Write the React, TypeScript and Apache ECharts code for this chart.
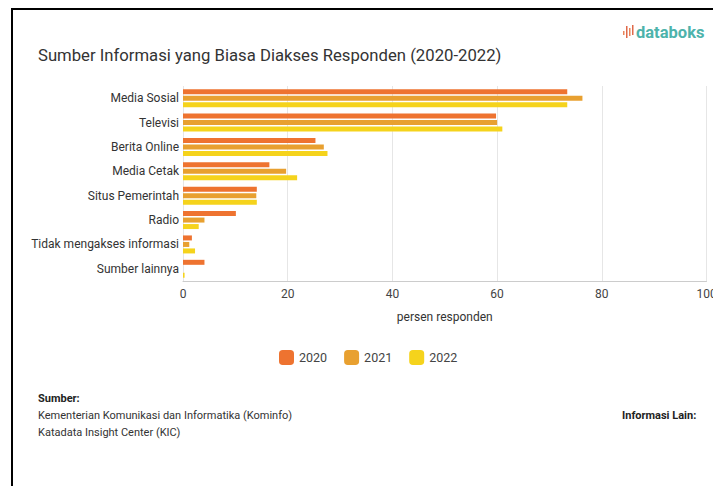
import React, { useEffect, useRef } from "react";
import * as echarts from "echarts";

const categories = [
  "Media Sosial",
  "Televisi",
  "Berita Online",
  "Media Cetak",
  "Situs Pemerintah",
  "Radio",
  "Tidak mengakses informasi",
  "Sumber lainnya",
];
const years = ["2020", "2021", "2022"];
const values2020 = [73.4, 59.8, 25.3, 16.5, 14.1, 10.1, 1.7, 4.1];
const values2021 = [76.3, 60.0, 26.9, 19.7, 14.0, 4.1, 1.2, 0];
const values2022 = [73.4, 61.0, 27.6, 21.8, 14.1, 3.0, 2.3, 0.3];
const colors = ["#EE7330", "#E8A030", "#F5D31C"];

export default function App() {
  const ref = useRef<HTMLDivElement>(null);
  useEffect(() => {
    document.body.style.margin = "0";
    const chart = echarts.init(ref.current!, null, { renderer: "svg" });
    const seriesData = [values2020, values2021, values2022];
    chart.setOption({
      animation: false,
      textStyle: { fontFamily: "Roboto" },
      title: {
        text: "Sumber Informasi yang Biasa Diakses Responden (2020-2022)",
        left: 33,
        top: 42,
        textStyle: { fontSize: 16.7, fontWeight: "normal", color: "#333" },
      },
      legend: {
        data: years,
        left: 274,
        top: 345,
        itemWidth: 15,
        itemHeight: 15,
        itemGap: 17,
        icon: "roundRect",
        textStyle: { fontSize: 12.5, color: "#444" },
      },
      grid: {
        left: 183,
        right: 6.5,
        top: 86,
        bottom: 205,
        containLabel: false,
        outerBoundsMode: "none",
      },
      xAxis: {
        type: "value",
        min: 0,
        max: 100,
        interval: 20,
        name: "persen responden",
        nameLocation: "middle",
        nameGap: 30,
        nameTextStyle: { fontSize: 12, color: "#333" },
        axisLine: { show: true, lineStyle: { color: "#ccc" } },
        axisTick: { show: false },
        axisLabel: { fontSize: 12, color: "#444", margin: 7 },
        splitLine: { show: true, lineStyle: { color: "#e6e6e6" } },
      },
      yAxis: {
        type: "category",
        data: categories,
        inverse: true,
        axisLine: { show: false },
        axisTick: { show: false },
        axisLabel: { fontSize: 12, color: "#333", margin: 4 },
      },
      series: years.map((y, i) => ({
        name: y,
        type: "bar",
        data: seriesData[i],
        barWidth: 5,
        barGap: "30%",
        itemStyle: { color: colors[i] },
      })),
      graphic: [
        {
          type: "rect",
          shape: { x: 12, y: 9, width: 900, height: 600 },
          style: { fill: "none", stroke: "#000", lineWidth: 2 },
          silent: true,
        },
        {
          type: "text",
          x: 636,
          y: 24,
          style: {
            text: "databoks",
            fill: "#4DB3AB",
            font: "bold 16.5px Roboto",
          },
        },
        { type: "rect", shape: { x: 623, y: 31, width: 1.5, height: 4 }, style: { fill: "#E9855B" } },
        { type: "rect", shape: { x: 626, y: 26, width: 1.5, height: 12 }, style: { fill: "#E06A4A" } },
        { type: "rect", shape: { x: 629, y: 28, width: 1.5, height: 8 }, style: { fill: "#E9855B" } },
        { type: "rect", shape: { x: 632, y: 25, width: 1.5, height: 10 }, style: { fill: "#E06A4A" } },
        {
          type: "text",
          x: 38,
          y: 393,
          style: { text: "Sumber:", fill: "#222", font: "bold 11px Roboto" },
        },
        {
          type: "text",
          x: 38,
          y: 410,
          style: {
            text: "Kementerian Komunikasi dan Informatika (Kominfo)",
            fill: "#333",
            font: "11px Roboto",
          },
        },
        {
          type: "text",
          x: 38,
          y: 427,
          style: { text: "Katadata Insight Center (KIC)", fill: "#333", font: "11px Roboto" },
        },
        {
          type: "text",
          x: 622,
          y: 410,
          style: { text: "Informasi Lain:", fill: "#222", font: "bold 11px Roboto" },
        },
      ],
    });
    return () => chart.dispose();
  }, []);
  return <div ref={ref} style={{ width: 713, height: 486 }} />;
}
